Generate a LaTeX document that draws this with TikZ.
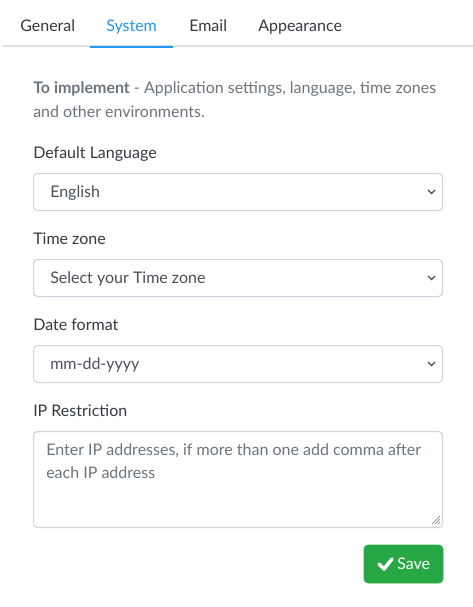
\documentclass[tikz,border=0pt]{standalone}
\usepackage{fontspec}
\setmainfont{Lato}
\definecolor{tabtxt}{HTML}{343A40}
\definecolor{tabblue}{HTML}{2196F3}
\definecolor{tabline}{HTML}{DEE2E6}
\definecolor{lbl}{HTML}{343A40}
\definecolor{muted}{HTML}{6C757D}
\definecolor{seltxt}{HTML}{495057}
\definecolor{bord}{HTML}{CED4DA}
\definecolor{okgreen}{HTML}{28A745}
\begin{document}
\begin{tikzpicture}[x=0.75pt,y=-0.75pt,
  txt/.style={inner sep=0pt,anchor=base west,font=\fontsize{12}{14.4}\selectfont},
  tab/.style={txt,text=tabtxt},
  label/.style={txt,text=lbl},
  field/.style={draw=bord,line width=0.75pt,rounded corners=3pt,fill=white},
  chev/.style={draw=seltxt,line width=0.9pt},
]
\useasboundingbox[fill=white] (0,0) rectangle (473,607);
% tabs
\node[tab] (tgen) at (20,31.5) {General};
\node[tab,text=tabblue] (tsys) at (106,31.5) {System};
\node[tab] (temail) at (189,31.5) {Email};
\node[tab] (tapp) at (258,31.5) {Appearance};
\draw[tabline,line width=1.5pt] (3,46) -- (473,46);
\draw[tabblue,line width=1.5pt] (90,46.5) -- (173,46.5);
% intro
\node[txt,text=muted] (intro1) at (33,93) {\textbf{To implement} - Application settings, language, time zones};
\node[txt,text=muted] (intro2) at (33,117.5) {and other environments.};
% default language
\node[label] (llang) at (33,158) {Default Language};
\draw[field] (33.5,173.5) rectangle (442.5,210.5);
\node[txt,text=seltxt] (vlang) at (50,197) {English};
\draw[chev] (428,190) -- (431.5,193.5) -- (435,190);
% time zone
\node[label] (ltz) at (33,244) {Time zone};
\draw[field] (33.5,259.5) rectangle (442.5,296.5);
\node[txt,text=seltxt] (vtz) at (50,283) {Select your Time zone};
\draw[chev] (428,276) -- (431.5,279.5) -- (435,276);
% date format
\node[label] (ldate) at (33,330) {Date format};
\draw[field] (33.5,345.5) rectangle (442.5,382.5);
\node[txt,text=seltxt] (vdate) at (50,369) {mm-dd-yyyy};
\draw[chev] (428,362) -- (431.5,365.5) -- (435,362);
% ip restriction
\node[label] (lip) at (33,416) {IP Restriction};
\draw[field] (33.5,431.5) rectangle (442.5,527.5);
\node[txt,text=muted] (ph1) at (46,455) {Enter IP addresses, if more than one add comma after};
\node[txt,text=muted] (ph2) at (46,478.5) {each IP address};
\draw[muted,line width=0.5pt] (432,524) -- (440,516) (435,524) -- (440,519) (438,524) -- (440,522);
% save button
\draw[fill=okgreen,draw=okgreen,rounded corners=3pt] (364,545) rectangle (443,583);
\draw[white,line width=2.6pt,line cap=round,line join=round] (379,564) -- (384,569) -- (392,559);
\node[txt,text=white] (save) at (397,569.5) {Save};
\end{tikzpicture}
\end{document}
